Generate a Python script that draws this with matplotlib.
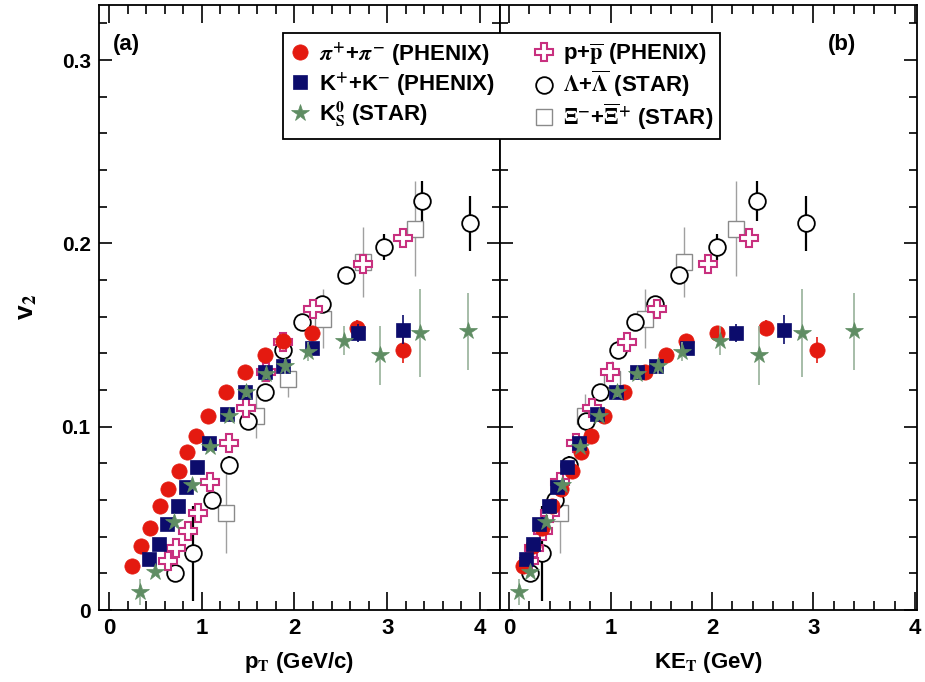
import matplotlib
matplotlib.use("Agg")
import matplotlib.pyplot as plt
from matplotlib.lines import Line2D

plt.rcParams['font.family'] = ['Liberation Sans', 'DejaVu Sans']
plt.rcParams['font.weight'] = 'bold'
plt.rcParams['axes.labelweight'] = 'bold'
plt.rcParams['mathtext.fontset'] = 'stix'

# ---- data: (pT, KE_T, v2, err) per species ----
pi_pt = [0.245, 0.35, 0.44, 0.55, 0.64, 0.75, 0.84, 0.94, 1.07, 1.26, 1.47, 1.68, 1.88, 2.19, 2.67, 3.17]
pi_ke = [0.142, 0.237, 0.322, 0.428, 0.515, 0.623, 0.712, 0.811, 0.939, 1.128, 1.337, 1.546, 1.745, 2.054, 2.534, 3.033]
pi_v2 = [0.024, 0.035, 0.045, 0.057, 0.066, 0.076, 0.086, 0.095, 0.106, 0.119, 0.130, 0.139, 0.147, 0.151, 0.154, 0.142]
pi_er = [0.001, 0.001, 0.001, 0.001, 0.001, 0.001, 0.001, 0.001, 0.001, 0.001, 0.001, 0.001, 0.002, 0.002, 0.004, 0.007]

k_pt = [0.435, 0.54, 0.62, 0.74, 0.83, 0.945, 1.08, 1.27, 1.47, 1.68, 1.88, 2.19, 2.69, 3.17]
k_ke = [0.164, 0.238, 0.299, 0.396, 0.472, 0.572, 0.694, 0.869, 1.057, 1.257, 1.450, 1.751, 2.241, 2.714]
k_v2 = [0.028, 0.036, 0.047, 0.057, 0.067, 0.078, 0.091, 0.107, 0.119, 0.130, 0.133, 0.143, 0.151, 0.153]
k_er = [0.001, 0.001, 0.001, 0.001, 0.001, 0.001, 0.001, 0.002, 0.002, 0.002, 0.002, 0.003, 0.005, 0.008]

ks_pt = [0.334, 0.50, 0.70, 0.89, 1.09, 1.29, 1.48, 1.69, 1.90, 2.15, 2.53, 2.92, 3.35, 3.87]
ks_ke = [0.102, 0.208, 0.361, 0.522, 0.701, 0.885, 1.064, 1.264, 1.466, 1.709, 2.081, 2.465, 2.889, 3.404]
ks_v2 = [0.010, 0.021, 0.048, 0.068, 0.089, 0.106, 0.119, 0.129, 0.133, 0.141, 0.147, 0.139, 0.151, 0.152]
ks_er = [0.007, 0.002, 0.002, 0.002, 0.002, 0.002, 0.003, 0.003, 0.004, 0.005, 0.008, 0.016, 0.024, 0.021]

p_pt = [0.64, 0.72, 0.855, 0.96, 1.09, 1.29, 1.48, 1.69, 1.88, 2.20, 2.74, 3.17]
p_ke = [0.198, 0.245, 0.331, 0.404, 0.500, 0.657, 0.814, 0.995, 1.163, 1.454, 1.958, 2.368]
p_v2 = [0.027, 0.034, 0.043, 0.053, 0.070, 0.091, 0.110, 0.130, 0.146, 0.164, 0.189, 0.203]
p_er = [0.001, 0.001, 0.001, 0.001, 0.001, 0.002, 0.002, 0.002, 0.002, 0.003, 0.004, 0.005]

lam_pt = [0.71, 0.91, 1.107, 1.29, 1.50, 1.68, 1.88, 2.08, 2.30, 2.56, 2.965, 3.38, 3.89]
lam_ke = [0.207, 0.324, 0.456, 0.590, 0.754, 0.901, 1.071, 1.245, 1.441, 1.677, 2.052, 2.444, 2.931]
lam_v2 = [0.020, 0.031, 0.060, 0.079, 0.103, 0.119, 0.142, 0.157, 0.167, 0.183, 0.198, 0.223, 0.211]
lam_er = [0.004, 0.026, 0.003, 0.005, 0.003, 0.003, 0.003, 0.003, 0.004, 0.004, 0.007, 0.011, 0.015]

xi_pt = [1.26, 1.59, 1.93, 2.31, 2.74, 3.30]
xi_ke = [0.504, 0.746, 1.018, 1.340, 1.720, 2.233]
xi_v2 = [0.053, 0.106, 0.126, 0.159, 0.190, 0.208]
xi_er = [0.022, 0.012, 0.010, 0.016, 0.019, 0.026]

labels = [r'$\pi^{+}$+$\pi^{-}$ (PHENIX)', r'K$^{\mathbf{+}}$+K$^{\mathbf{-}}$ (PHENIX)',
          r'K$^{\mathbf{0}}_{\mathbf{S}}$ (STAR)',
          r'p+$\overline{\mathbf{p}}$ (PHENIX)', r'$\Lambda$+$\overline{\Lambda}$ (STAR)',
          r'$\Xi^{-}$+$\overline{\Xi}^{+}$ (STAR)']

# marker styles: (marker, size, face, edge, edge width, errbar colour, errbar width, zorder)
styles = [
    ('o', 11, '#e41a10', '#e41a10', 0.5, '#e41a10', 1.2, 4),
    ('s', 10, '#0c0c6c', '#0c0c6c', 0.5, '#0c0c6c', 1.2, 5),
    ('*', 13, '#5f8d63', '#5f8d63', 0.5, '#97b29a', 1.2, 6),
    ('P', 13, 'white', '#c8307f', 1.5, '#c89ab0', 1.0, 3),
    ('o', 12, 'white', 'black', 1.3, 'black', 1.6, 2.5),
    ('s', 12, 'white', '#8a8a8a', 1.0, '#a0a0a0', 1.0, 2),
]

pt_sets = [(pi_pt, pi_v2, pi_er), (k_pt, k_v2, k_er), (ks_pt, ks_v2, ks_er),
           (p_pt, p_v2, p_er), (lam_pt, lam_v2, lam_er), (xi_pt, xi_v2, xi_er)]
ke_sets = [(pi_ke, pi_v2, pi_er), (k_ke, k_v2, k_er), (ks_ke, ks_v2, ks_er),
           (p_ke, p_v2, p_er), (lam_ke, lam_v2, lam_er), (xi_ke, xi_v2, xi_er)]

fig = plt.figure(figsize=(9.25, 6.82), dpi=100)
ax1 = fig.add_axes([99/925, 1-610/682, 401/925, 605/682])
ax2 = fig.add_axes([500/925, 1-610/682, 417/925, 605/682])

for ax, sets in ((ax1, pt_sets), (ax2, ke_sets)):
    for (x, y, e), (m, ms, fc, ec, mew, ecol, elw, z) in zip(sets, styles):
        ax.errorbar(x, y, yerr=e, fmt=m, ms=ms, mfc=fc, mec=ec, mew=mew,
                    ecolor=ecol, elinewidth=elw, capsize=0, zorder=z)
    ax.set_ylim(0, 0.33)
    ax.set_xticks([0, 1, 2, 3, 4])
    ax.set_xticks([i*0.2 for i in range(21)], minor=True)
    ax.set_yticks([0, 0.1, 0.2, 0.3])
    ax.set_yticks([i*0.02 for i in range(17)], minor=True)
    ax.tick_params(which='both', direction='in', top=True, right=True, width=1.2)
    ax.tick_params(axis='x', which='major', length=13, labelsize=16, pad=6)
    ax.tick_params(axis='x', which='minor', length=6.5)
    ax.tick_params(axis='y', which='major', length=9.5, labelsize=15, pad=6)
    ax.tick_params(axis='y', which='minor', length=5.5)
    for s in ax.spines.values():
        s.set_linewidth(1.3)

ax1.set_xlim(-0.108, 4.216)
ax2.set_xlim(-0.089, 4.02)
ax1.set_yticklabels(['0', '0.1', '0.2', '0.3'])
ax2.set_yticklabels([])

ax1.set_xlabel(r'p$_{\mathbf{T}}$ (GeV/c)', fontsize=16, labelpad=8)
ax2.set_xlabel(r'KE$_{\mathbf{T}}$ (GeV)', fontsize=16, labelpad=8)
ax1.set_ylabel(r'v$_{\mathbf{2}}$', fontsize=19, labelpad=16)

ax1.text(0.035, 0.934, '(a)', transform=ax1.transAxes, fontsize=16, fontweight='bold', va='center')
ax2.text(0.787, 0.934, '(b)', transform=ax2.transAxes, fontsize=16, fontweight='bold', va='center')

handles = [Line2D([], [], ls='none', marker=m, ms=ms, mfc=fc, mec=ec, mew=mew)
           for (m, ms, fc, ec, mew, ecol, elw, z) in styles]
leg = fig.legend(handles, labels, ncol=2, loc='upper left', bbox_to_anchor=(283/925, 1-33/682),
                 borderaxespad=0, frameon=True, fancybox=False, edgecolor='black', framealpha=1,
                 prop={'weight': 'bold', 'size': 16}, handlelength=0.9, handletextpad=0.4,
                 columnspacing=1.8, labelspacing=0.1, borderpad=0.3)
leg.get_frame().set_linewidth(1.3)

fig.savefig('out.png', dpi=100)
